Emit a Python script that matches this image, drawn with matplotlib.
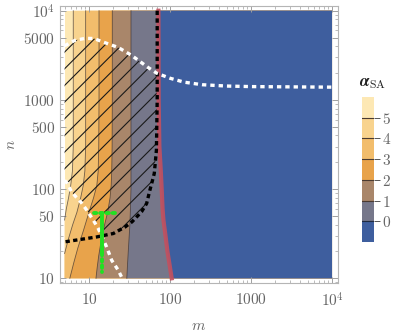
import numpy as np
import matplotlib
matplotlib.use("Agg")
import matplotlib.pyplot as plt
import matplotlib.ticker as mticker
from matplotlib.colors import ListedColormap, BoundaryNorm
from matplotlib.cm import ScalarMappable
from matplotlib.patches import Polygon

plt.rcParams["mathtext.fontset"] = "cm"
plt.rcParams["hatch.linewidth"] = 0.8

# domain of the coloured map
M_MIN, M_MAX = 5, 1e4
N_MIN, N_MAX = 10, 1e4

# band colours, from alpha > 5 down to alpha < 0
band_colors = ["#fde8b4", "#f8d38e", "#f2bd6c", "#e8a34b", "#a9866a", "#76778a", "#3e5e9e"]
levels = [5, 4, 3, 2, 1, 0]

# contour lines of alpha_SA, read top (n = 1e4) to bottom / left edge
c5_m = [6.4, 6.4, 6.4, 6.25, 5.95, 5.6, 5.25, 5.0]
c5_n = [1e4, 1000, 300, 160, 110, 80, 60, 45]
c4_m = [9.1, 9.1, 9.1, 8.9, 8.5, 7.9, 7.1, 6.3, 5.6, 5.0]
c4_n = [1e4, 1000, 300, 160, 110, 80, 55, 40, 28, 19]
c3_m = [13.3, 13.3, 13.2, 13.0, 12.5, 11.4, 10.0, 8.6, 7.3, 6.5, 5.8]
c3_n = [1e4, 1000, 300, 160, 110, 80, 55, 35, 22, 15, 10]
c2_m = [19.4, 19.4, 19.3, 19.1, 18.8, 18.2, 17.0, 15.6, 14.3, 13.2, 12.6, 12.2]
c2_n = [1e4, 1000, 300, 160, 110, 80, 55, 40, 28, 18, 13, 10]
c1_m = [33, 33, 33, 33, 33, 32.5, 32, 31, 30, 29.3]
c1_n = [1e4, 1000, 300, 160, 100, 60, 40, 25, 15, 10]
c0_m = [72, 72.5, 74, 77, 79, 81, 83, 88, 93, 99, 105]
c0_n = [1e4, 1000, 300, 160, 100, 60, 45, 30, 20, 14, 10]
contours = [(c5_m, c5_n), (c4_m, c4_n), (c3_m, c3_n), (c2_m, c2_n), (c1_m, c1_n), (c0_m, c0_n)]

# black dotted boundary
bd_m = [69.5, 69.5, 68, 64, 59.5, 56.5, 51.5, 44.5, 34, 28, 20, 12.5, 7.7, 5.0]
bd_n = [1e4, 1000, 274, 150, 116, 97.5, 69, 55.6, 43, 37.7, 31.8, 29.1, 27.2, 25.6]

# upper white dotted boundary
uw_m = [5.0, 6.7, 9.0, 11.5, 15.0, 23.0, 33.7, 54, 68.5, 100, 150, 250, 500, 1000, 1e4]
uw_n = [4050, 4650, 4900, 4880, 4450, 3870, 3150, 2300, 1995, 1750, 1580, 1480, 1430, 1410, 1390]

# lower white dotted boundary
lw_m = [5.0, 5.4, 6.1, 7.0, 8.1, 9.4, 10.3, 11.3, 13.0, 16.5, 19.1, 23.0, 25.3, 25.8]
lw_n = [125, 116, 93, 80.7, 70, 58, 51, 44.9, 36.2, 22.5, 15.9, 12.3, 10.3, 10]

# green marker (vertical + horizontal pieces)
gv_m = [14.3, 14.3]
gv_n = [54, 19]
gd_m = [14.3, 14.3]
gd_n = [19, 11.8]
gh_m = [11.6, 21.0]
gh_n = [54, 54]


def right_region(m, n):
    # polygon of everything to the right of a contour inside the domain
    pts = list(zip(m, n))
    if n[-1] > N_MIN:
        pts.append((M_MIN, N_MIN))
    pts += [(M_MAX, N_MIN), (M_MAX, N_MAX)]
    return pts


def first_crossing(a, b):
    # a, b: polylines in log coordinates
    for i in range(len(a) - 1):
        p, r = a[i], a[i + 1] - a[i]
        for j in range(len(b) - 1):
            q, s = b[j], b[j + 1] - b[j]
            den = r[0] * s[1] - r[1] * s[0]
            if den == 0:
                continue
            t = ((q[0] - p[0]) * s[1] - (q[1] - p[1]) * s[0]) / den
            u = ((q[0] - p[0]) * r[1] - (q[1] - p[1]) * r[0]) / den
            if 0 <= t <= 1 and 0 <= u <= 1:
                return i, j, p + t * r
    return None


def to_log(m, n):
    return np.column_stack([np.log10(m), np.log10(n)])


fig = plt.figure(figsize=(3.95, 3.35), dpi=100)
ax = fig.add_axes([60 / 395, 1 - 283.3 / 335, 277.7 / 395, 277.6 / 335])
ax.set_xscale("log")
ax.set_yscale("log")
ax.set_xlim(4.39, 11750)
ax.set_ylim(8.79, 11380)

# colour bands
ax.fill([M_MIN, M_MAX, M_MAX, M_MIN], [N_MIN, N_MIN, N_MAX, N_MAX],
        color=band_colors[0], lw=0, zorder=1)
for i, (lev, (cm_, cn_)) in enumerate(zip(levels, contours)):
    ax.add_patch(Polygon(right_region(cm_, cn_), closed=True,
                         facecolor=band_colors[i + 1], edgecolor="none", zorder=1))
for lev, (cm_, cn_) in zip(levels, contours):
    if lev == 0:
        ax.plot(cm_, cn_, color="#c4505e", lw=3.0, alpha=0.9, zorder=4)
    else:
        ax.plot(cm_, cn_, color="#3a3030", lw=0.6, alpha=0.7, zorder=2)

# hatched region between the dotted boundaries
uw = to_log(uw_m, uw_n)
bd = to_log(bd_m, bd_n)
lw = to_log(lw_m, lw_n)
i1, j1, p1 = first_crossing(uw, bd)
j2, i2, p2 = first_crossing(bd, lw)
poly = np.vstack([uw[:i1 + 1], p1, bd[j1 + 1:j2 + 1], p2, lw[i2::-1]])
ax.add_patch(Polygon(10 ** poly, closed=True, facecolor="none",
                     edgecolor="#1a1a1a", hatch="//", lw=0, zorder=3))

# dotted boundaries
ax.plot(bd_m, bd_n, color="black", lw=2.4, ls=(0, (1.3, 1.0)), zorder=5)
ax.plot(uw_m, uw_n, color="white", lw=2.4, ls=(0, (1.3, 1.2)), zorder=5)
ax.plot(lw_m, lw_n, color="white", lw=2.4, ls=(0, (1.3, 1.2)), zorder=5)

# green marker
ax.plot(gv_m, gv_n, color="#22e022", lw=2.8, solid_capstyle="round", zorder=6)
ax.plot(gd_m, gd_n, color="#22e022", lw=2.8, ls=(0, (0.6, 1.0)),
        dash_capstyle="round", zorder=6)
ax.plot(gh_m, gh_n, color="#22e022", lw=2.8, ls=(0, (0.6, 1.0)),
        dash_capstyle="round", zorder=6)

# frame and ticks
for sp in ax.spines.values():
    sp.set_color("#b5b5b5")
    sp.set_linewidth(0.8)
ax.xaxis.set_major_locator(mticker.FixedLocator([10, 100, 1000, 1e4]))
ax.xaxis.set_major_formatter(mticker.FixedFormatter(
    [r"$10$", r"$100$", r"$1000$", r"$10^4$"]))
ax.yaxis.set_major_locator(mticker.FixedLocator([10, 50, 100, 500, 1000, 5000, 1e4]))
ax.yaxis.set_major_formatter(mticker.FixedFormatter(
    [r"$10$", r"$50$", r"$100$", r"$500$", r"$1000$", r"$5000$", r"$10^4$"]))
ax.xaxis.set_minor_locator(mticker.LogLocator(base=10, subs=np.arange(2, 10)))
ax.yaxis.set_minor_locator(mticker.LogLocator(base=10, subs=[2, 3, 4, 6, 7, 8, 9]))
ax.xaxis.set_minor_formatter(mticker.NullFormatter())
ax.yaxis.set_minor_formatter(mticker.NullFormatter())
ax.tick_params(which="both", direction="in", top=True, right=True,
               color="#a0a0a0", labelcolor="#666666", labelsize=11)
ax.tick_params(which="major", length=4.5, width=0.7)
ax.tick_params(which="minor", length=2.5, width=0.5)
ax.tick_params(axis="x", pad=6)
ax.set_xlabel(r"$m$", color="#666666", fontsize=11, labelpad=6)
ax.set_ylabel(r"$n$", color="#666666", fontsize=11, labelpad=4, rotation=90)

# legend colour bar
cax = fig.add_axes([362 / 395, 1 - 242 / 335, 12 / 395, 145 / 335])
bounds = [-1, 0, 1, 2, 3, 4, 5, 6]
cmap = ListedColormap(band_colors[::-1])
norm = BoundaryNorm(bounds, cmap.N)
cb = fig.colorbar(ScalarMappable(norm=norm, cmap=cmap), cax=cax, ticks=levels[::-1])
cb.outline.set_visible(False)
cb.ax.minorticks_off()
cb.ax.set_yticklabels([r"$%d$" % v for v in levels[::-1]])
cb.ax.tick_params(length=4, width=0.7, color="#555555", labelcolor="#666666",
                  labelsize=11, pad=2)
for lev in levels:
    cb.ax.axhline(lev, color="#1e2a40" if lev == 0 else "#4a3a30", lw=0.8)
fig.text(373 / 395, 1 - 82 / 335, r"$\boldsymbol{\alpha}_{\mathrm{SA}}$",
         ha="center", va="center", fontsize=12, color="#222222")

fig.savefig("out.png", dpi=100)
